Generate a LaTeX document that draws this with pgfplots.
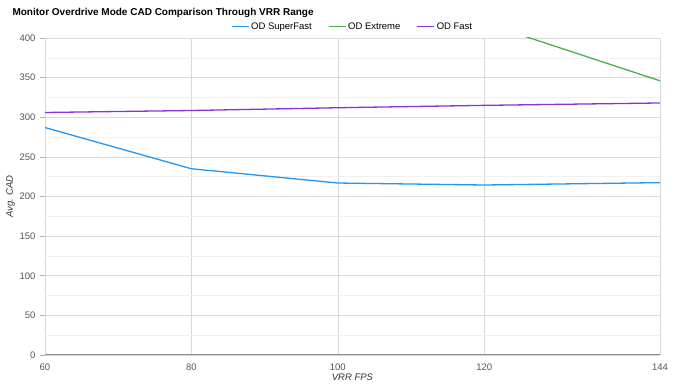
\documentclass[border=0pt]{standalone}
\usepackage{pgfplots}
\pgfplotsset{compat=1.18}
\usepackage{fontspec}
\setmainfont{Liberation Sans}
\definecolor{cblue}{HTML}{2196F3}
\definecolor{cgreen}{HTML}{4CAF50}
\definecolor{cpurple}{HTML}{8E30D8}
\definecolor{tickgray}{HTML}{555555}
\begin{document}
\begin{tikzpicture}[x=1pt,y=1pt]
\useasboundingbox (0,0) rectangle (675,390);
\node[anchor=west,font=\bfseries\fontsize{10}{12}\selectfont] at (9,377) {Monitor Overdrive Mode CAD Comparison Through VRR Range};
\begin{axis}[
  at={(45pt,35pt)}, anchor=south west,
  width=615pt, height=317pt, scale only axis,
  xmin=60, xmax=144, ymin=0, ymax=400,
  xtick={60,80,100,120,144},
  ytick={0,50,...,400},
  minor y tick num=1,
  grid=both,
  major grid style={draw=black!15, line width=0.6pt},
  minor grid style={draw=black!6, line width=0.6pt},
  axis line style={draw=none},
  axis x line*=bottom,
  axis y line*=left,
  x axis line style={draw=none},
  tick style={draw=none},
  ytick style={draw=black!30, line width=0.6pt},
  ytick align=outside, tickwidth=5pt,
  minor tick length=0pt,
  xtick style={draw=none},
  tick label style={font=\fontsize{9.5}{10}\selectfont, text=tickgray},
  /pgf/number format/assume math mode=true,
  xticklabel style={yshift=-5pt},
  yticklabel style={xshift=-1pt},
  xlabel={\itshape VRR FPS},
  ylabel={\itshape Avg. CAD},
  label style={font=\fontsize{9.5}{10}\selectfont, text=black!80},
  xlabel style={yshift=3pt},
  ylabel style={yshift=-2pt},
  clip=true,
  legend columns=3,
  legend style={at={(0.5,1.0)}, anchor=south, yshift=3pt, draw=none, fill=none,
    font=\fontsize{9.5}{10}\selectfont,
    /tikz/every even column/.append style={column sep=14pt}},
  legend image code/.code={\draw[#1] (0pt,0pt) -- (17pt,0pt);},
  every axis plot/.append style={line width=1.3pt},
]
\draw[black!45, line width=1.2pt] (axis cs:60,0) -- (axis cs:144,0);
\addplot[cblue] coordinates {(60,287) (80,235) (100,217) (120,214.5) (144,217.5)};
\addlegendentry{OD SuperFast}
\addplot[cgreen] coordinates {(120,419) (144,346)};
\addlegendentry{OD Extreme}
\addplot[cpurple] coordinates {(60,306) (80,308.5) (100,312) (120,315) (144,318)};
\addlegendentry{OD Fast}
\end{axis}
\end{tikzpicture}
\end{document}
